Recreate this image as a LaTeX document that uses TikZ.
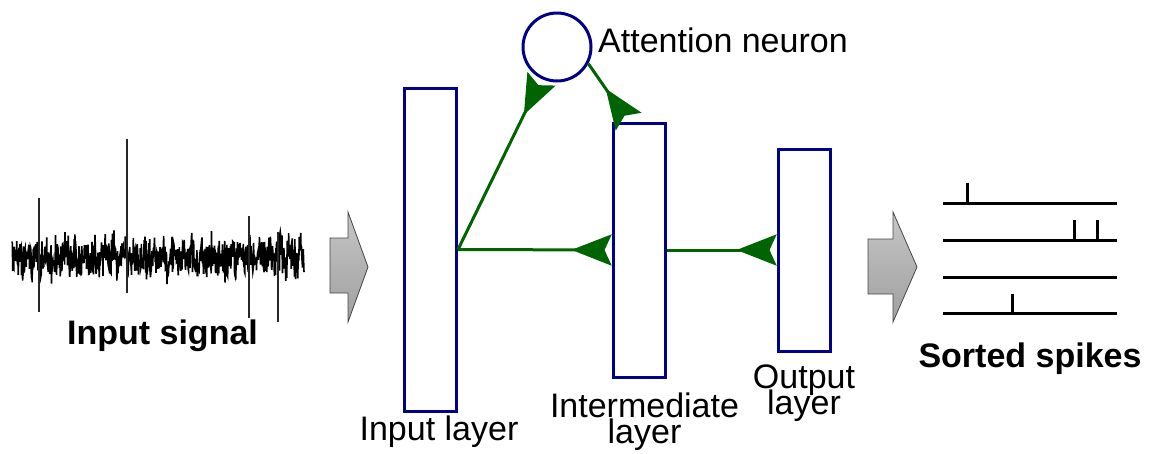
\documentclass[tikz,border=0pt]{standalone}
\usepackage{fontspec}
\setmainfont{Liberation Sans}
\usetikzlibrary{arrows.meta,calc}
\definecolor{navy}{RGB}{0,0,139}
\definecolor{syngreen}{RGB}{0,100,0}
\newcommand\mylblfont{\fontsize{34}{26}\selectfont\lineskiplimit=-100pt\relax}
\begin{document}
\begin{tikzpicture}[x=1pt,y=-1pt,
  layer/.style={draw=navy, line width=3pt, fill=white, inner sep=0pt, minimum width=52pt},
  neuron/.style={circle, draw=navy, line width=3pt, inner sep=0pt, minimum size=68pt},
  syn/.style={draw=syngreen, line width=3pt, -{Stealth[reversed,length=40pt,width=31pt,inset=7pt]}},
  lbl/.style={font=\mylblfont, inner sep=0pt, align=center},
  blbl/.style={font=\fontsize{34}{40}\selectfont\bfseries, inner sep=0pt},
  blockarrow/.style={draw=gray!55!black, line width=0.8pt, top color=gray!45, bottom color=gray!75},
  spk/.style={line width=3pt, line cap=butt},
  sig/.style={line width=1.6pt, line join=miter},
  sigspike/.style={line width=1.5pt, draw=gray!30!black}]
\useasboundingbox (0,0) rectangle (1150,453);

% input signal
\pgfmathsetseed{5}
\draw[sig] plot[variable=\t, samples=800, domain=12:304] (\t,{258+15*rand+9*rand+5*sin(\t*37)});
\draw[sigspike] (39,198) -- (39,312) (127,139) -- (127,293) (249,216) -- (249,318) (278,232) -- (278,322);
\node[blbl, anchor=base] (siglbl) at (162.5,344) {Input signal};

% block arrows
\draw[blockarrow] (330,238) -- (348,238) -- (348,212) -- (368,267) -- (348,322) -- (348,293) -- (330,293) -- cycle;
\draw[blockarrow] (868,239) -- (893,239) -- (893,212) -- (917,267) -- (893,322) -- (893,294) -- (868,294) -- cycle;

% layers
\node[layer, minimum height=323pt] (in) at (430.5,249.5) {};
\node[layer, minimum height=254pt] (mid) at (639,250) {};
\node[layer, minimum height=202pt] (out) at (804,250) {};
\node[neuron] (att) at (557,47) {};

% labels
\node[lbl, anchor=base west] (attlbl) at (598,52) {Attention neuron};
\node[lbl, anchor=base] (inlbl) at (439,440) {Input layer};
\node[lbl, anchor=north] (midlbl) at (644.5,393) {Intermediate\\layer};
\node[lbl, anchor=north] (outlbl) at (804,364.5) {Output\\layer};

% connectors
\coordinate (midtop) at ([xshift=17pt]mid.north west);
\draw[syn] (in.east) -- (att);
\draw[syn] (att.-28) -- (midtop);
\draw[syn] (in.east) -- (mid.west);
\draw[syn] (mid.east) -- (out.west);

% sorted spikes
\draw[spk] (943,203) -- (1117,203) (967,203) -- (967,183);
\draw[spk] (943,240) -- (1117,240) (1074,240) -- (1074,220) (1097,240) -- (1097,220);
\draw[spk] (943,277) -- (1117,277);
\draw[spk] (943,313) -- (1117,313) (1012,313) -- (1012,294);
\node[blbl, anchor=base] (spklbl) at (1030,367) {Sorted spikes};
\end{tikzpicture}
\end{document}
